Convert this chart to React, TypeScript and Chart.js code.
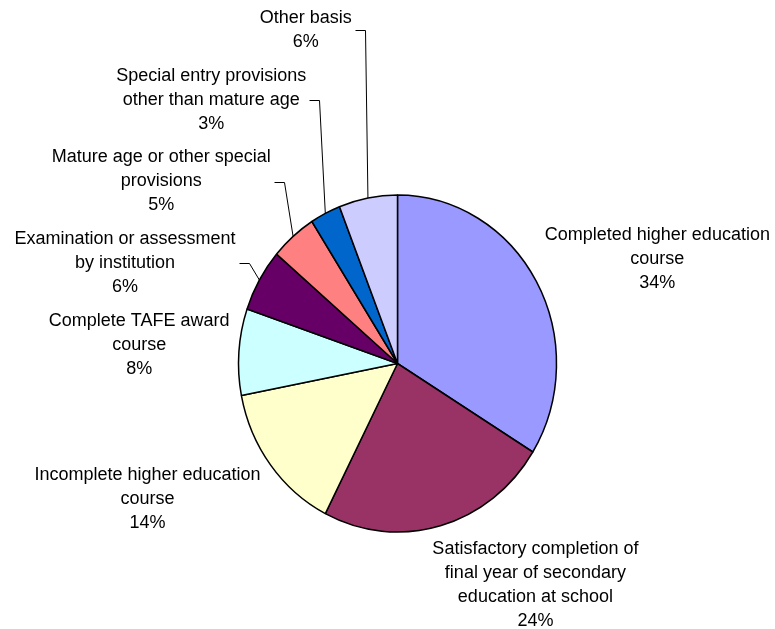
import React, { useEffect, useRef } from "react";
import { Chart, registerables } from "chart.js";

Chart.register(...registerables);

// ---- data ----
const categories: string[][] = [
  ["Completed higher education", "course"],
  ["Satisfactory completion of", "final year of secondary", "education at school"],
  ["Incomplete higher education", "course"],
  ["Complete TAFE award", "course"],
  ["Examination or assessment", "by institution"],
  ["Mature age or other special", "provisions"],
  ["Special entry provisions", "other than mature age"],
  ["Other basis"],
];
const shares: number[] = [33.8, 23.7, 14.45, 8.3, 6.0, 4.7, 3.1, 5.95];

// ---- styles / layout ----
const colors: string[] = [
  "#9999FF",
  "#993366",
  "#FFFFCC",
  "#CCFFFF",
  "#660066",
  "#FF8080",
  "#0066CC",
  "#CCCCFF",
];
const labelOffsets: number[][] = [
  [121, -22.7],
  [95, 59],
  [-123, 34.3],
  [-99.7, -7.2],
  [-134.4, -17],
  [-131.9, -54.9],
  [-114.1, -113.4],
  [-62.1, -167.5],
];
const hasLeader: boolean[] = [false, false, false, false, true, true, true, true];
const Y_STRETCH = 168.5 / 159;
const LINE_H = 24;
const FONT = '18px "Liberation Sans", Arial, sans-serif';

const ellipsePlugin = {
  id: "ellipseStretch",
  beforeDatasetsDraw(chart: any) {
    const el = chart.getDatasetMeta(0).data[0];
    if (!el) return;
    const { x, y } = el;
    const ctx = chart.ctx;
    ctx.save();
    ctx.translate(x, y);
    ctx.scale(1, Y_STRETCH);
    ctx.translate(-x, -y);
  },
  afterDatasetsDraw(chart: any) {
    chart.ctx.restore();
  },
};

const labelPlugin = {
  id: "outsideLabels",
  afterDraw(chart: any) {
    const ctx = chart.ctx as CanvasRenderingContext2D;
    const meta = chart.getDatasetMeta(0);
    const total = shares.reduce((a, b) => a + b, 0);
    ctx.save();
    ctx.font = FONT;
    ctx.fillStyle = "#000";
    ctx.strokeStyle = "#000";
    ctx.lineWidth = 1;
    ctx.textAlign = "center";
    ctx.textBaseline = "middle";
    meta.data.forEach((el: any, i: number) => {
      const { x, y, startAngle, endAngle, outerRadius } = el.getProps(
        ["x", "y", "startAngle", "endAngle", "outerRadius"],
        true
      );
      const mid = (startAngle + endAngle) / 2;
      const ex = x + outerRadius * Math.cos(mid);
      const ey = y + outerRadius * Y_STRETCH * Math.sin(mid);
      const lines = [...categories[i], Math.round((shares[i] / total) * 100) + "%"];
      const cx = ex + labelOffsets[i][0];
      const cy = ey + labelOffsets[i][1];
      const n = lines.length;
      let maxW = 0;
      lines.forEach((t, j) => {
        ctx.fillText(t, cx, cy + (j - (n - 1) / 2) * LINE_H);
        maxW = Math.max(maxW, ctx.measureText(t).width);
      });
      if (hasLeader[i]) {
        const sx = Math.round(cx + maxW / 2 + 3) + 0.5;
        const sy = Math.round(cy) + 0.5;
        ctx.beginPath();
        ctx.moveTo(sx, sy);
        ctx.lineTo(sx + 10, sy);
        ctx.lineTo(ex, ey);
        ctx.stroke();
      }
    });
    ctx.restore();
  },
};

export default function App() {
  const canvasRef = useRef<HTMLCanvasElement | null>(null);

  useEffect(() => {
    document.body.style.margin = "0";
    const canvas = canvasRef.current;
    if (!canvas) return;
    const chart = new Chart(canvas, {
      type: "pie",
      data: {
        labels: categories.map((c) => c.join(" ")),
        datasets: [
          {
            data: shares,
            backgroundColor: colors,
            borderColor: "#000",
            borderWidth: 1.5,
            hoverOffset: 0,
          },
        ],
      },
      options: {
        animation: false,
        responsive: false,
        radius: 159,
        layout: { padding: { left: 40, right: 20, top: 120, bottom: 22 } },
        plugins: {
          legend: { display: false },
          tooltip: { enabled: false },
        },
        events: [],
      } as any,
      plugins: [ellipsePlugin, labelPlugin],
    });
    return () => chart.destroy();
  }, []);

  return (
    <div style={{ position: "absolute", left: 0, top: 0, width: 775, height: 629, background: "#fff" }}>
      <canvas ref={canvasRef} width={775} height={629} />
    </div>
  );
}
